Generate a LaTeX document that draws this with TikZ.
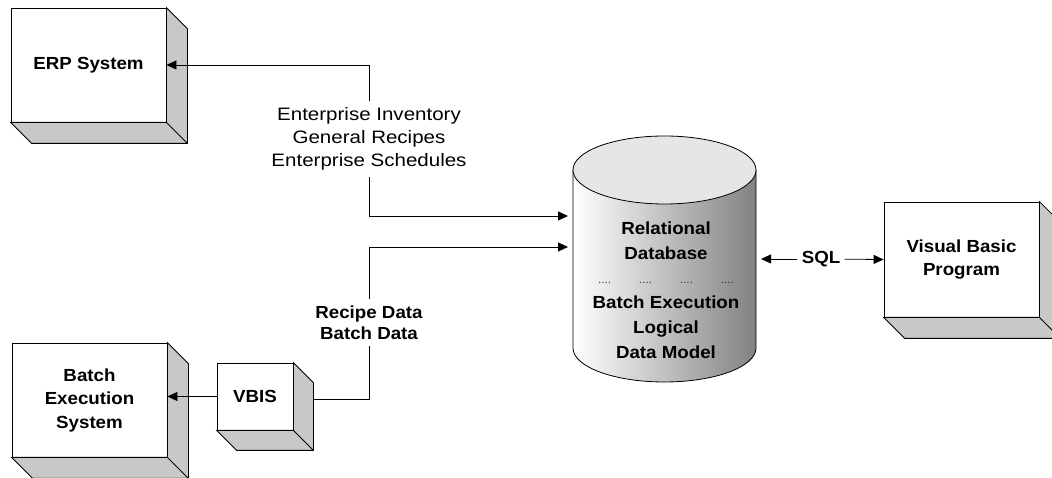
\documentclass[tikz,border=0pt]{standalone}
\usepackage{fontspec}
\setmainfont{Liberation Sans}[FakeStretch=1.07]
\newfontfamily\widefamily{Liberation Sans}[FakeStretch=1.14]
\usetikzlibrary{arrows.meta,positioning,calc}
\definecolor{sidegray}{RGB}{200,200,200}
\definecolor{lidgray}{RGB}{230,230,230}
\definecolor{bodymid}{RGB}{215,215,215}
\definecolor{bodydark}{RGB}{130,130,130}
\newcommand{\boxfont}{\fontsize{17.5}{23.5}\selectfont\bfseries}
\newcommand{\lblfont}{\fontsize{18}{23}\selectfont\widefamily}
\newcommand{\dotgrp}{{\fontsize{11}{11}\selectfont\mdseries\color{black!80}....}}
\newcommand{\drawdepth}[2]{%
  \filldraw[fill=sidegray] (#1.south west) -- ++(#2,-#2) -- ($(#1.south east)+(#2,-#2)$)
    -- ($(#1.north east)+(#2,-#2)$) -- (#1.north east) -- (#1.south east) -- cycle;
  \draw (#1.south east) -- ++(#2,-#2);}

\begin{document}
\begin{tikzpicture}[x=1pt, y=1pt, line width=0.8pt,
      block/.style={draw, fill=white, minimum width=155pt, minimum height=114pt,
                    inner sep=2pt, align=center, font=\boxfont},
      lbl/.style={align=center, inner sep=6pt},
      arr/.style={-{Triangle[length=10pt, width=9pt]}}
    ]
      \useasboundingbox (0,0) rectangle (1052,478);

      \node[block] (erp) at (88.5,413) {ERP System};
      \node[block] (batch) at (89.5,78) {Batch\\Execution\\System};
      \node[block, minimum width=76pt, minimum height=67pt] (vbis) at (255,81.5) {VBIS};
      \node[block, minimum height=115pt] (vb) at (961.5,218.5) {Visual Basic\\Program};
      \drawdepth{erp}{21}
      \drawdepth{batch}{21}
      \drawdepth{vbis}{20}
      \drawdepth{vb}{21}

      % database cylinder
      \shadedraw[left color=white, middle color=bodymid, right color=bodydark]
        (573,308) -- (573,130) arc[start angle=180, end angle=360, x radius=91.5, y radius=34]
        -- (756,308) -- cycle;
      \filldraw[fill=lidgray] (664.5,308) ellipse[x radius=91.5, y radius=34];
      \node[align=center, font=\fontsize{17.5}{24.8}\selectfont\bfseries] (db) at (666,188)
        {Relational\\Database\\\makebox[136pt]{\dotgrp\hfill\dotgrp\hfill\dotgrp\hfill\dotgrp}\\Batch Execution\\Logical\\Data Model};
      \coordinate (dbin1) at (568,262);
      \coordinate (dbin2) at (568,231);
      \coordinate (dbout) at (761,219);
      \coordinate (vbisside) at (313,79);

      \node[lbl, font=\lblfont] (erplbl) at (369,339) {Enterprise Inventory\\General Recipes\\Enterprise Schedules};
      \node[lbl, font=\fontsize{17.5}{21}\selectfont\bfseries] (batchlbl) at (369,155.5) {Recipe Data\\Batch Data};
      \node[font=\boxfont, inner sep=4pt] (sql) at (821,219) {SQL};

      \draw[arr] (erplbl.north) |- (erp.east);
      \draw[arr] (erplbl.south) |- (dbin1);
      \draw (vbisside) -| (batchlbl.south);
      \draw[arr] (batchlbl.north) |- (dbin2);
      \draw[arr] (vbis.west) -- (vbis.west -| batch.east);
      \draw[arr] (sql) -- (dbout);
      \draw[arr] (sql) -- (vb.west);
    \end{tikzpicture}
\end{document}
